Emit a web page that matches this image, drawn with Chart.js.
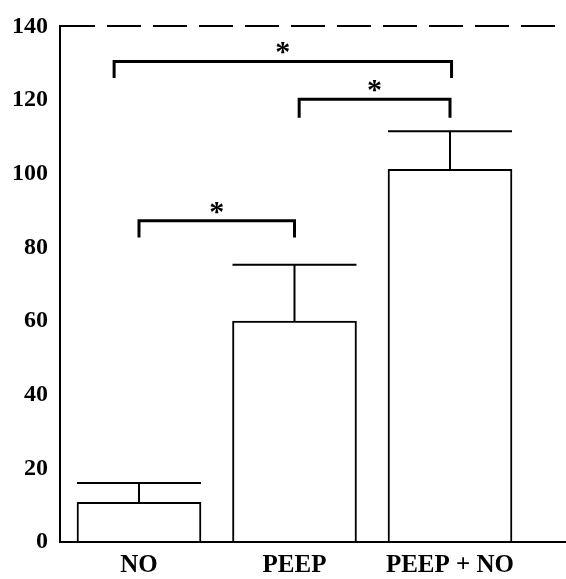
<!DOCTYPE html>
<html>
<head>
<meta charset="utf-8">
<script src="https://cdn.jsdelivr.net/npm/chart.js@4/dist/chart.umd.min.js"></script>
<style>
  html, body { margin: 0; padding: 0; background: #fff; }
  canvas { display: block; }
</style>
</head>
<body>
<canvas id="chart" width="566" height="579"></canvas>
<script>
// Group names, mean values and error (upper SEM)
const categories = ["NO", "PEEP", "PEEP + NO"];
const means = [10.8, 60, 101.2];
const sem = [5.2, 15.3, 10.3];
const yTicks = [0, 20, 40, 60, 80, 100, 120, 140];

// Significance brackets: x ends (in category units), height, leg length, label
const bracketFrom = [-0.16, 1.03, 0];
const bracketTo = [2.01, 2, 1];
const bracketY = [130.5, 120.2, 87.2];
const bracketLeg = [4.5, 5, 4.5];
const bracketLabel = ["*", "*", "*"];

const serif = "'Liberation Serif', 'Times New Roman', serif";

// Draw error bars on top of each bar
const errorBars = {
  id: "errorBars",
  afterDatasetsDraw(chart) {
    const { ctx, scales: { y } } = chart;
    const meta = chart.getDatasetMeta(0);
    ctx.save();
    ctx.strokeStyle = "#000";
    ctx.lineWidth = 2;
    meta.data.forEach((bar, i) => {
      const top = y.getPixelForValue(means[i] + sem[i]);
      const half = bar.width / 2;
      ctx.beginPath();
      ctx.moveTo(bar.x, bar.y);
      ctx.lineTo(bar.x, top);
      ctx.moveTo(bar.x - half, top);
      ctx.lineTo(bar.x + half, top);
      ctx.stroke();
    });
    ctx.restore();
  }
};

// Draw the significance brackets with their stars
const brackets = {
  id: "brackets",
  afterDatasetsDraw(chart) {
    const { ctx, scales: { x, y } } = chart;
    ctx.save();
    ctx.strokeStyle = "#000";
    ctx.fillStyle = "#000";
    ctx.lineWidth = 3;
    ctx.font = "bold 30px " + serif;
    ctx.textAlign = "center";
    ctx.textBaseline = "middle";
    bracketY.forEach((v, i) => {
      const x1 = x.getPixelForValue(bracketFrom[i]);
      const x2 = x.getPixelForValue(bracketTo[i]);
      const yy = y.getPixelForValue(v);
      const yl = y.getPixelForValue(v - bracketLeg[i]);
      ctx.beginPath();
      ctx.moveTo(x1, yl);
      ctx.lineTo(x1, yy);
      ctx.lineTo(x2, yy);
      ctx.lineTo(x2, yl);
      ctx.stroke();
      ctx.fillText(bracketLabel[i], (x1 + x2) / 2, yy - 8);
    });
    ctx.restore();
  }
};

new Chart(document.getElementById("chart"), {
  type: "bar",
  data: {
    datasets: [{
      data: means.map((m, i) => ({ x: i, y: m })),
      backgroundColor: "#fff",
      borderColor: "#000",
      borderWidth: 2,
      borderSkipped: "bottom",
      barThickness: 124
    }]
  },
  options: {
    responsive: false,
    animation: false,
    layout: { padding: { top: 25, right: 0, left: 0, bottom: 0 } },
    plugins: {
      legend: { display: false },
      tooltip: { enabled: false }
    },
    scales: {
      x: {
        type: "linear",
        offset: false,
        min: -0.508,
        max: 2.746,
        grid: { display: false, drawTicks: false },
        border: { color: "#000", width: 2 },
        afterBuildTicks: s => { s.ticks = categories.map((_, i) => ({ value: i })); },
        afterFit: s => { s.height = 37; },
        ticks: {
          color: "#000",
          padding: 9,
          autoSkip: false,
          maxRotation: 0,
          font: { family: serif, size: 25, weight: "bold" },
          callback: v => categories[v]
        }
      },
      y: {
        min: 0,
        max: 140,
        // only the top line (at 140) is drawn, dashed like the scanned frame
        grid: {
          drawTicks: false,
          lineWidth: 2,
          color: c => (c.tick && c.tick.value === 140 ? "#000" : "rgba(0,0,0,0)")
        },
        border: { color: "#000", width: 2, dash: [34, 12] },
        afterBuildTicks: s => { s.ticks = yTicks.map(v => ({ value: v })); },
        afterFit: s => { s.width = 60; },
        ticks: {
          color: "#000",
          padding: 12,
          font: { family: serif, size: 24, weight: "bold" }
        }
      }
    }
  },
  plugins: [errorBars, brackets]
});
</script>
</body>
</html>
